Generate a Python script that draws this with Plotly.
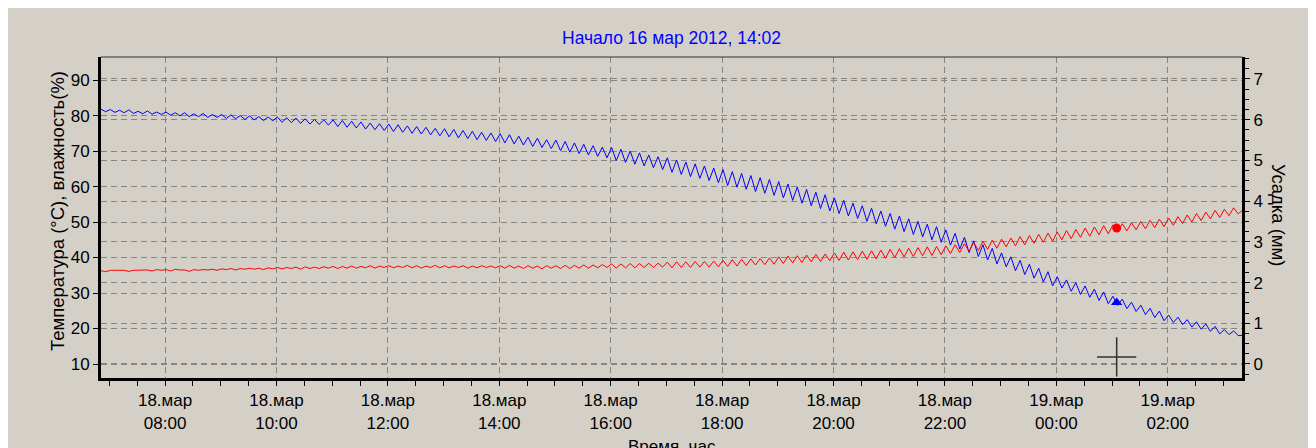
import pandas as pd
import plotly.graph_objects as go

# влажность (%), отсчёт каждые 5 минут начиная с 18.03 06:51
humidity = [
    81.8, 81.1,
    81.7, 80.9, 81.5, 80.8, 81.6, 80.6, 81.2, 80.5, 81.3, 80.4, 81.0, 80.3,
    81.0, 80.1, 80.8, 79.9, 80.8, 79.7, 80.5, 79.7, 80.6, 79.5, 80.3, 79.5,
    80.3, 79.2, 80.2, 79.1, 80.0, 78.9, 79.9, 78.8, 79.7, 78.6, 79.6, 78.5,
    79.6, 78.1, 79.4, 78.0, 79.3, 77.8, 79.1, 77.6, 78.9, 77.5, 78.8, 77.3,
    78.8, 76.9, 78.6, 76.7, 78.4, 76.5, 78.2, 76.2, 77.9, 76.0, 77.7, 75.8,
    77.6, 75.5, 77.4, 75.3, 77.1, 75.0, 76.9, 74.8, 76.7, 74.6, 76.4, 74.3,
    76.3, 74.0, 76.1, 73.7, 75.8, 73.5, 75.6, 73.2, 75.3, 73.0, 75.1, 72.7,
    74.9, 72.3, 74.6, 72.0, 74.2, 71.7, 73.9, 71.3, 73.6, 71.0, 73.2, 70.7,
    73.1, 70.1, 72.7, 69.7, 72.3, 69.3, 71.9, 68.9, 71.5, 68.5, 71.1, 68.1,
    71.0, 67.3, 70.5, 66.8, 70.0, 66.3, 69.5, 65.8, 68.9, 65.3, 68.4, 64.8,
    68.1, 64.0, 67.5, 63.4, 66.9, 62.8, 66.4, 62.3, 65.8, 61.7, 65.2, 61.1,
    64.8, 60.3, 64.2, 59.8, 63.7, 59.2, 63.1, 58.6, 62.5, 58.1, 62.0, 57.5,
    61.4, 56.8, 60.7, 56.1, 59.9, 55.3, 59.2, 54.6, 58.4, 53.8, 57.7, 53.1,
    56.8, 52.4, 56.1, 51.7, 55.3, 51.0, 54.6, 50.2, 53.9, 49.5, 53.1, 48.8,
    52.4, 48.0, 51.7, 47.3, 50.9, 46.5, 50.2, 45.8, 49.4, 45.0, 48.7, 44.3,
    47.8, 43.5, 46.8, 42.4, 45.7, 41.4, 44.7, 40.3, 43.6, 39.3, 42.6, 38.2,
    41.3, 37.4, 40.2, 36.3, 39.2, 35.2, 38.1, 34.2, 37.0, 33.1, 36.0, 32.0,
    34.6, 31.4, 33.7, 30.5, 32.9, 29.6, 32.0, 28.8, 31.1, 27.9, 30.3, 27.0,
    29.1, 26.5, 28.3, 25.6, 27.4, 24.8, 26.6, 23.9, 25.7, 23.1, 24.9, 22.2,
    23.8, 21.7, 23.2, 21.1, 22.5, 20.4, 21.9, 19.8, 21.3, 19.2, 20.6, 18.5,
    19.7, 18.3, 19.3, 18.0, 18.1,
]

# температура (°C)
temperature = [
    36.3, 36.0,
    36.4, 36.3, 36.4, 36.4, 36.1, 36.4, 36.5, 36.4, 36.5, 36.2, 36.6, 36.4,
    36.6, 36.2, 36.7, 36.5, 36.5, 36.1, 36.6, 36.4, 36.6, 36.5, 36.7, 36.4,
    36.8, 36.6, 36.9, 36.5, 36.9, 36.7, 37.0, 36.7, 37.0, 36.6, 37.1, 36.8,
    37.2, 36.8, 37.2, 36.9, 37.3, 36.7, 37.4, 36.9, 37.3, 36.9, 37.4, 37.0,
    37.5, 36.9, 37.5, 37.0, 37.6, 37.0, 37.5, 37.1, 37.7, 37.0, 37.6, 37.2,
    37.7, 37.1, 37.6, 37.2, 37.8, 37.1, 37.7, 37.0, 37.6, 37.2, 37.8, 37.1,
    37.7, 37.1, 37.6, 37.2, 37.7, 37.0, 37.6, 37.1, 37.7, 37.2, 37.6, 37.1,
    37.7, 37.0, 37.8, 37.0, 37.6, 36.9, 37.7, 37.0, 37.6, 36.8, 37.7, 37.0,
    37.7, 36.9, 37.8, 36.9, 37.8, 37.0, 37.9, 37.0, 37.9, 37.1, 38.0, 37.2,
    38.2, 37.0, 38.2, 37.1, 38.3, 37.1, 38.3, 37.2, 38.4, 37.2, 38.4, 37.3,
    38.7, 37.1, 38.8, 37.2, 38.8, 37.2, 38.9, 37.3, 38.9, 37.3, 39.0, 37.4,
    39.2, 37.5, 39.4, 37.6, 39.5, 37.7, 39.6, 37.9, 39.7, 38.0, 39.9, 38.1,
    40.2, 38.3, 40.4, 38.5, 40.5, 38.6, 40.7, 38.8, 40.9, 38.9, 41.0, 39.1,
    41.3, 39.2, 41.5, 39.3, 41.6, 39.4, 41.8, 39.5, 41.9, 39.6, 42.1, 39.8,
    42.3, 40.0, 42.5, 40.2, 42.6, 40.3, 42.8, 40.5, 43.0, 40.6, 43.1, 40.8,
    43.3, 41.1, 43.6, 41.4, 43.9, 41.7, 44.3, 42.0, 44.6, 42.3, 44.9, 42.6,
    45.2, 43.0, 45.5, 43.3, 45.9, 43.6, 46.2, 44.0, 46.5, 44.3, 46.9, 44.6,
    47.2, 45.0, 47.6, 45.3, 47.9, 45.7, 48.3, 46.0, 48.6, 46.4, 49.0, 46.7,
    49.2, 47.2, 49.5, 47.5, 49.8, 47.8, 50.2, 48.1, 50.5, 48.4, 50.8, 48.7,
    51.1, 49.1, 51.5, 49.6, 52.0, 50.0, 52.4, 50.4, 52.8, 50.9, 53.3, 51.3,
    53.6, 51.8, 54.0, 52.3, 53.5,
]

times = pd.date_range("2012-03-18 06:51", periods=len(humidity), freq="5min")

# отмеченная точка и курсор
mark_time = ["2012-03-19 01:05"]
mark_temp = [48.3]
mark_hum = [27.3]
cursor_time = ["2012-03-19 01:05"]
cursor_val = [12.0]

tick_times = pd.date_range("2012-03-18 08:00", "2012-03-19 02:00", freq="2h")
tick_labels = [f"{t.day}.мар<br>{t:%H:%M}" for t in tick_times]

BG = "#d4d0c8"
GRID = "#858585"
FONT = "Liberation Sans"

fig = go.Figure()
fig.add_trace(go.Scatter(x=times, y=humidity, mode="lines",
                         line=dict(color="#0000ff", width=1), name="Влажность"))
fig.add_trace(go.Scatter(x=times, y=temperature, mode="lines",
                         line=dict(color="#ff0000", width=1), name="Температура"))
fig.add_trace(go.Scatter(x=mark_time, y=mark_temp, mode="markers",
                         marker=dict(symbol="circle", size=9, color="#ff0000")))
fig.add_trace(go.Scatter(x=mark_time, y=mark_hum, mode="markers",
                         marker=dict(symbol="triangle-up", size=10, color="#0000ff")))
fig.add_trace(go.Scatter(x=cursor_time, y=cursor_val, mode="markers",
                         marker=dict(symbol="cross-thin", size=28,
                                     line=dict(color="#303030", width=1.5))))
# пустая серия для правой оси (усадка)
fig.add_trace(go.Scatter(x=[times[0]], y=[0], yaxis="y2", mode="markers",
                         marker=dict(opacity=0), hoverinfo="skip"))

fig.update_layout(
    width=1316, height=448,
    margin=dict(l=93, r=82, t=49, b=78),
    paper_bgcolor=BG,
    plot_bgcolor=BG,
    showlegend=False,
    font=dict(family=FONT, size=17, color="black"),
    title=dict(text="Начало 16 мар 2012, 14:02", x=0.5, xref="paper",
               y=1 - 30 / 448, yref="container", yanchor="middle",
               font=dict(family=FONT, size=17.5, color="#0000ff")),
    xaxis=dict(
        type="date",
        range=["2012-03-18 06:51", "2012-03-19 03:20"],
        tickvals=tick_times, ticktext=tick_labels,
        ticks="outside", ticklen=5, tickcolor="black",
        showline=True, linewidth=3, linecolor="black",
        showgrid=True, gridcolor=GRID, griddash="6px,4px", gridwidth=1,
        minor=dict(dtick=30 * 60 * 1000, ticks="outside", ticklen=5,
                   tickcolor="black", showgrid=False),
        zeroline=False,
    ),
    yaxis=dict(
        range=[6.06, 96.5], tick0=10, dtick=10,
        ticks="outside", ticklen=5, tickcolor="black",
        showline=True, linewidth=3, linecolor="black",
        showgrid=True, gridcolor=GRID, griddash="6px,4px", gridwidth=1,
        zeroline=False,
    ),
    yaxis2=dict(
        overlaying="y", side="right",
        range=[-0.344, 7.54], tick0=0, dtick=1,
        ticks="outside", ticklen=5, tickcolor="black",
        showline=True, linewidth=3, linecolor="black",
        showgrid=True, gridcolor=GRID, griddash="6px,4px", gridwidth=1,
        minor=dict(dtick=0.25, ticks="outside", ticklen=4, tickcolor="black",
                   showgrid=False),
        zeroline=False,
    ),
    shapes=[
        dict(type="line", xref="paper", yref="paper",
             x0=0, x1=1, y0=1, y1=1, line=dict(color="#303030", width=1)),
    ],
    annotations=[
        dict(text="Температура (°C), влажность(%)", textangle=-90,
             xref="paper", yref="paper", x=-0.0386, y=0.52,
             xanchor="center", yanchor="middle", showarrow=False,
             font=dict(family=FONT, size=18.5)),
        dict(text="Усадка (мм)", textangle=90,
             xref="paper", yref="paper", x=1.0316, y=0.508,
             xanchor="center", yanchor="middle", showarrow=False,
             font=dict(family=FONT, size=18.5)),
        dict(text="Время, час", xref="paper", yref="paper",
             x=0.5, y=-0.179, xanchor="center", yanchor="top",
             showarrow=False, font=dict(family=FONT, size=17)),
    ],
)

fig.write_html("out.html")
